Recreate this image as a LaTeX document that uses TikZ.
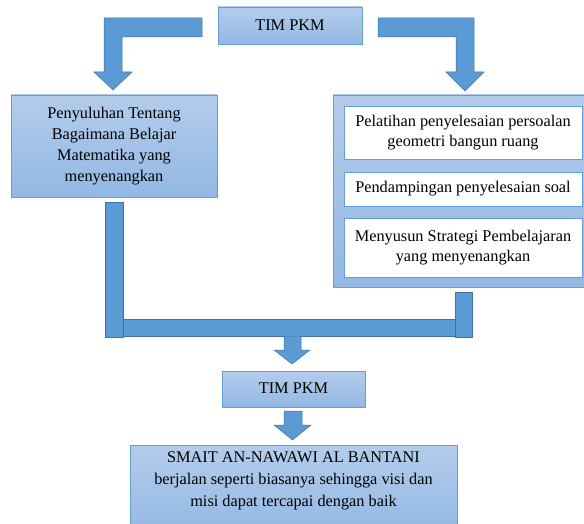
\documentclass[tikz,border=0pt]{standalone}
\usepackage{fontspec}
\setmainfont{Liberation Serif}
\definecolor{arrowblue}{RGB}{91,155,213}
\definecolor{arrowedge}{RGB}{65,113,156}
\definecolor{boxtop}{RGB}{180,204,235}
\definecolor{boxbot}{RGB}{146,184,228}
\definecolor{boxedge}{RGB}{100,158,215}
\tikzset{
  gbox/.style={rectangle, draw=boxedge, line width=0.9pt, top color=boxtop, bottom color=boxbot, inner sep=0pt, align=center, font=\fontsize{16.3}{21}\selectfont},
  wbox/.style={rectangle, draw=boxedge, line width=0.9pt, fill=white, inner sep=0pt, align=center, font=\fontsize{16.3}{20}\selectfont},
  blockarrow/.style={fill=arrowblue, draw=arrowedge, line width=0.5pt, line join=miter},
  txt/.style={inner sep=0pt, align=center, font=\fontsize{16.3}{22}\selectfont}
}
\begin{document}
\begin{tikzpicture}[x=1pt,y=-1pt]
\clip (0,0) rectangle (584,524);
\fill[white] (0,0) rectangle (584,524);
% top team box
\node[gbox, minimum width=144pt, minimum height=37pt] (tim1) at (290,25.5) {\raisebox{1.5pt}{TIM PKM}};
% left block
\node[gbox, minimum width=206pt, minimum height=102pt] (left) at (114,146)
  {Penyuluhan Tentang\\Bagaimana Belajar\\Matematika yang\\menyenangkan};
% right container
\node[gbox, minimum width=262pt, minimum height=192pt] (right) at (464,191) {};
\node[wbox, minimum width=238pt, minimum height=53pt] (r1) at (463,132.5)
  {Pelatihan penyelesaian persoalan\\geometri bangun ruang};
\node[wbox, minimum width=238pt, minimum height=34pt] (r2) at (463,189)
  {Pendampingan penyelesaian soal};
\node[wbox, minimum width=238pt, minimum height=59pt] (r3) at (463,247.5)
  {Menyusun Strategi Pembelajaran\\yang menyenangkan};
% bottom team box
\node[gbox, minimum width=143pt, minimum height=36pt] (tim2) at (293.5,389) {\raisebox{1pt}{TIM PKM}};
% final box
\node[gbox, minimum width=327pt, minimum height=92pt] (final) at (293.5,491) {};
\node[txt] (finaltext) at (293.5,481)
  {SMAIT AN-NAWAWI AL BANTANI\\berjalan seperti biasanya sehingga visi dan\\misi dapat tercapai dengan baik};
% bent arrows from top
\draw[blockarrow] (202,18) -- (104,18) -- (104,72) -- (94,72) -- (113,90) -- (132,72) -- (122,72) -- (122,37) -- (202,37) -- cycle;
\draw[blockarrow] (378,18) -- (474,18) -- (474,72) -- (484,72) -- (465,91) -- (446,72) -- (456,72) -- (456,37) -- (378,37) -- cycle;
% joining bars
\draw[blockarrow] (123,319) rectangle (455,336);
\draw[blockarrow] (105,202) rectangle (123,337);
\draw[blockarrow] (455,292) rectangle (472,337);
% down arrows
\draw[blockarrow] (284,336) -- (301,336) -- (301,350) -- (310,350) -- (292,364) -- (274,350) -- (284,350) -- cycle;
\draw[blockarrow] (284,411) -- (302,411) -- (302,425) -- (311,425) -- (292.5,440) -- (274,425) -- (284,425) -- cycle;
\end{tikzpicture}
\end{document}
